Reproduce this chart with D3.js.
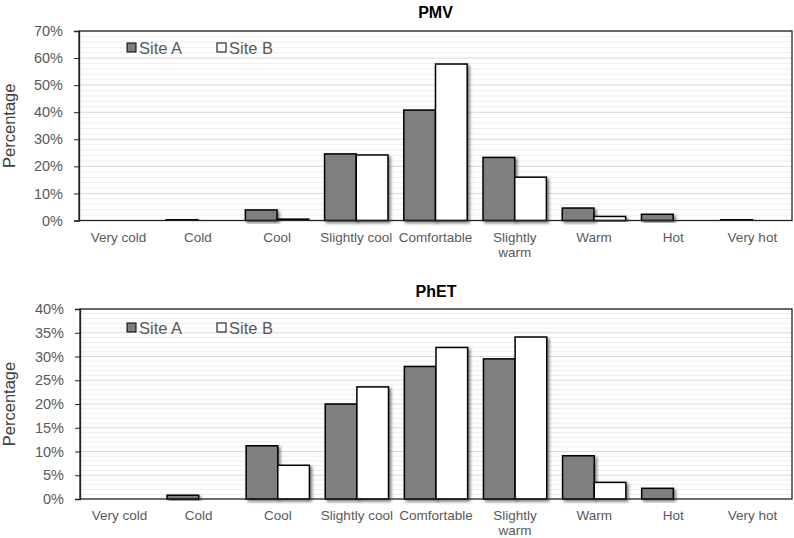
<!DOCTYPE html>
<html><head><meta charset="utf-8">
<script src="https://cdn.jsdelivr.net/npm/d3@7/dist/d3.min.js"></script>
<style>
body{margin:0;background:#fff;}
svg{display:block;font-family:"Liberation Sans",Arial,sans-serif;}
</style></head>
<body>
<svg id="chart" width="794" height="538"></svg>
<script>
const categories = ["Very cold","Cold","Cool","Slightly cool","Comfortable","Slightly warm","Warm","Hot","Very hot"];
const seriesNames = ["Site A","Site B"];
const pmvSiteA = [0, 0.3, 3.9, 24.6, 40.8, 23.3, 4.6, 2.3, 0.4];
const pmvSiteB = [0, 0.1, 0.5, 24.2, 57.8, 16.0, 1.5, 0, 0];
const phetSiteA = [0, 0.8, 11.2, 20.0, 27.9, 29.5, 9.1, 2.25, 0];
const phetSiteB = [0, 0, 7.1, 23.6, 31.9, 34.1, 3.5, 0, 0];
const pmvTicks = [0,10,20,30,40,50,60,70];
const phetTicks = [0,5,10,15,20,25,30,35,40];
const titles = ["PMV","PhET"];

const svg = d3.select("#chart");
const defs = svg.append("defs");
const f = defs.append("filter").attr("id","shadow").attr("x","-20%").attr("y","-20%").attr("width","150%").attr("height","150%");
f.append("feDropShadow").attr("dx",2).attr("dy",2).attr("stdDeviation",1.6).attr("flood-color","#000").attr("flood-opacity",0.5);

const panels = [
  {title:titles[0], a:pmvSiteA, b:pmvSiteB, ticks:pmvTicks, minor:2, x0:79, x1:792, yTop:31, yBot:220.5, titleY:18, legendY:48},
  {title:titles[1], a:phetSiteA, b:phetSiteB, ticks:phetTicks, minor:1, x0:80, x1:792, yTop:309, yBot:499, titleY:297, legendY:328}
];

panels.forEach(p => {
  const g = svg.append("g");
  const maxV = p.ticks[p.ticks.length-1];
  const y = d3.scaleLinear().domain([0,maxV]).range([p.yBot,p.yTop]);
  const x = d3.scaleBand().domain(categories).range([p.x0,p.x1]).paddingInner(0.2).paddingOuter(0.1);
  const xs = d3.scaleBand().domain(seriesNames).range([0,x.bandwidth()]);

  const minorVals = d3.range(0, maxV+0.001, p.minor).filter(v => !p.ticks.includes(v));
  g.selectAll(".minor").data(minorVals).join("line")
    .attr("x1",p.x0).attr("x2",p.x1).attr("y1",d=>y(d)).attr("y2",d=>y(d))
    .attr("stroke","#eeeeee").attr("stroke-width",1);
  g.selectAll(".major").data(p.ticks.slice(1)).join("line")
    .attr("x1",p.x0).attr("x2",p.x1).attr("y1",d=>y(d)).attr("y2",d=>y(d))
    .attr("stroke","#d9d9d9").attr("stroke-width",1);

  const rows = categories.map((c,i)=>({c, vals:[{s:seriesNames[0],v:p.a[i]},{s:seriesNames[1],v:p.b[i]}]}));
  const grp = g.selectAll(".cat").data(rows).join("g").attr("transform",d=>`translate(${x(d.c)},0)`);
  grp.selectAll("rect").data(d=>d.vals.filter(e=>e.v>0)).join("rect")
    .attr("x",d=>xs(d.s)).attr("width",xs.bandwidth())
    .attr("y",d=>y(d.v)).attr("height",d=>p.yBot-y(d.v))
    .attr("fill",d=>d.s===seriesNames[0]?"#7f7f7f":"#ffffff")
    .attr("stroke","#000").attr("stroke-width",1.5)
    .attr("filter","url(#shadow)");

  g.append("rect").attr("x",p.x0).attr("y",p.yTop).attr("width",p.x1-p.x0).attr("height",p.yBot-p.yTop)
    .attr("fill","none").attr("stroke","#222").attr("stroke-width",1.3);

  const yAxis = d3.axisLeft(y).tickValues(p.ticks).tickFormat(d=>d+"%").tickSize(5).tickPadding(11);
  const ya = g.append("g").attr("transform",`translate(${p.x0},0)`).call(yAxis);
  ya.select(".domain").attr("stroke","#222").attr("stroke-width",1.3);
  ya.selectAll(".tick line").attr("stroke","#222");
  ya.selectAll("text").attr("fill","#595959").attr("font-size","14.5px").attr("font-family","'Liberation Sans',Arial,sans-serif");

  const xl = g.selectAll(".xl").data(categories).join("text")
    .attr("x",d=>x(d)+x.bandwidth()/2).attr("y",p.yBot+21)
    .attr("text-anchor","middle").attr("fill","#595959").attr("font-size","13.5px");
  xl.each(function(d){
    const t = d3.select(this);
    if(d==="Slightly warm"){
      t.append("tspan").attr("x",x(d)+x.bandwidth()/2).attr("dy",0).text("Slightly");
      t.append("tspan").attr("x",x(d)+x.bandwidth()/2).attr("dy",15).text("warm");
    } else t.text(d);
  });

  g.append("text").attr("x",(p.x0+p.x1)/2).attr("y",p.titleY).attr("text-anchor","middle")
    .attr("font-weight","bold").attr("font-size","16px").attr("fill","#000").text(p.title);

  g.append("text").attr("transform",`translate(15,${(p.yTop+p.yBot)/2}) rotate(-90)`)
    .attr("text-anchor","middle").attr("font-size","16.5px").attr("fill","#404040").text("Percentage");

  const lx = [127,217];
  seriesNames.forEach((s,i)=>{
    g.append("rect").attr("x",lx[i]).attr("y",p.legendY-5).attr("width",9).attr("height",9)
      .attr("fill",i===0?"#7f7f7f":"#fff").attr("stroke","#000").attr("stroke-width",1);
    g.append("text").attr("x",lx[i]+12).attr("y",p.legendY+5.5).attr("font-size","16.5px").attr("fill","#595959").text(s);
  });
});
</script>
</body></html>
